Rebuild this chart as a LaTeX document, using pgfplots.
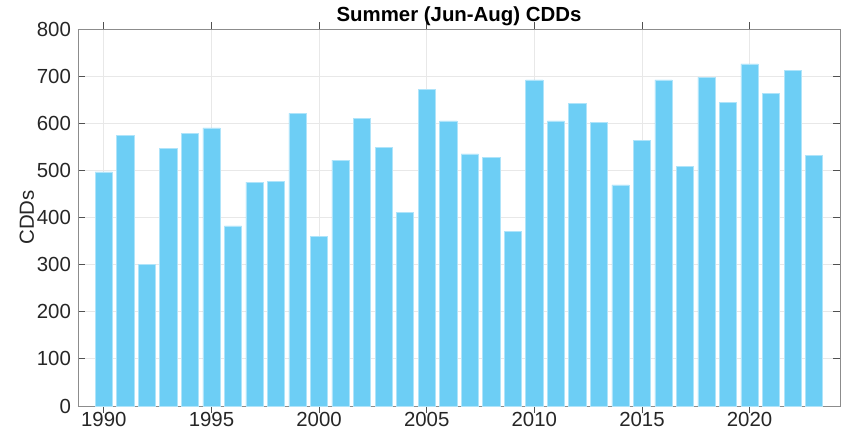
\documentclass[border=0pt]{standalone}
\usepackage{fontspec}
\setmainfont{Liberation Sans}
\usepackage{pgfplots}
\pgfplotsset{compat=1.18}

\definecolor{barblue}{RGB}{109,206,245}
\definecolor{baredge}{RGB}{175,228,250}
\definecolor{axgray}{RGB}{140,140,140}
\definecolor{txt}{RGB}{38,38,38}

\begin{document}
\begin{tikzpicture}
% fixed page size, measured from the reference (1px = 0.5pt)
\path[use as bounding box] (-39pt,-14pt) rectangle (384pt,203pt);
\begin{axis}[at={(0,0)}, anchor=south west,
  scale only axis, width=381pt, height=188.5pt,
  xmin=1988.8, xmax=2024.2, ymin=0, ymax=800,
  xtick={1990,1995,...,2020}, ytick={0,100,...,800},
  /pgf/number format/1000 sep={},
  /pgf/number format/assume math mode=true,
  ticklabel style={font=\fontsize{10.2}{12}\selectfont, text=txt},
  xticklabel style={yshift=4pt},
  tick align=inside, tick pos=both, major tick length=3.5pt,
  every tick/.style={draw=txt!80, line width=0.4pt},
  axis line style={draw=axgray, line width=0.4pt},
  grid=major, major grid style={draw=black!9, line width=0.4pt},
  every axis title shift=0pt,
  title={Summer (Jun-Aug) CDDs},
  title style={at={(0.5,1)}, anchor=base, yshift=3.6pt,
    font=\bfseries\fontsize{10.2}{12}\selectfont, text=black},
  ylabel={CDDs},
  ylabel style={font=\fontsize{10.2}{12}\selectfont, text=txt, yshift=-5.5pt},
  ybar, bar width=0.8]
\addplot[fill=barblue, draw=baredge, line width=0.3pt] coordinates {
 (1990,497) (1991,575) (1992,300) (1993,547) (1994,578) (1995,590)
 (1996,382) (1997,475) (1998,477) (1999,621) (2000,360) (2001,522)
 (2002,610) (2003,549) (2004,411) (2005,672) (2006,605) (2007,535)
 (2008,527) (2009,371) (2010,692) (2011,605) (2012,642) (2013,601)
 (2014,469) (2015,564) (2016,692) (2017,509) (2018,698) (2019,644)
 (2020,726) (2021,663) (2022,712) (2023,531)};
\end{axis}
\end{tikzpicture}
\end{document}
